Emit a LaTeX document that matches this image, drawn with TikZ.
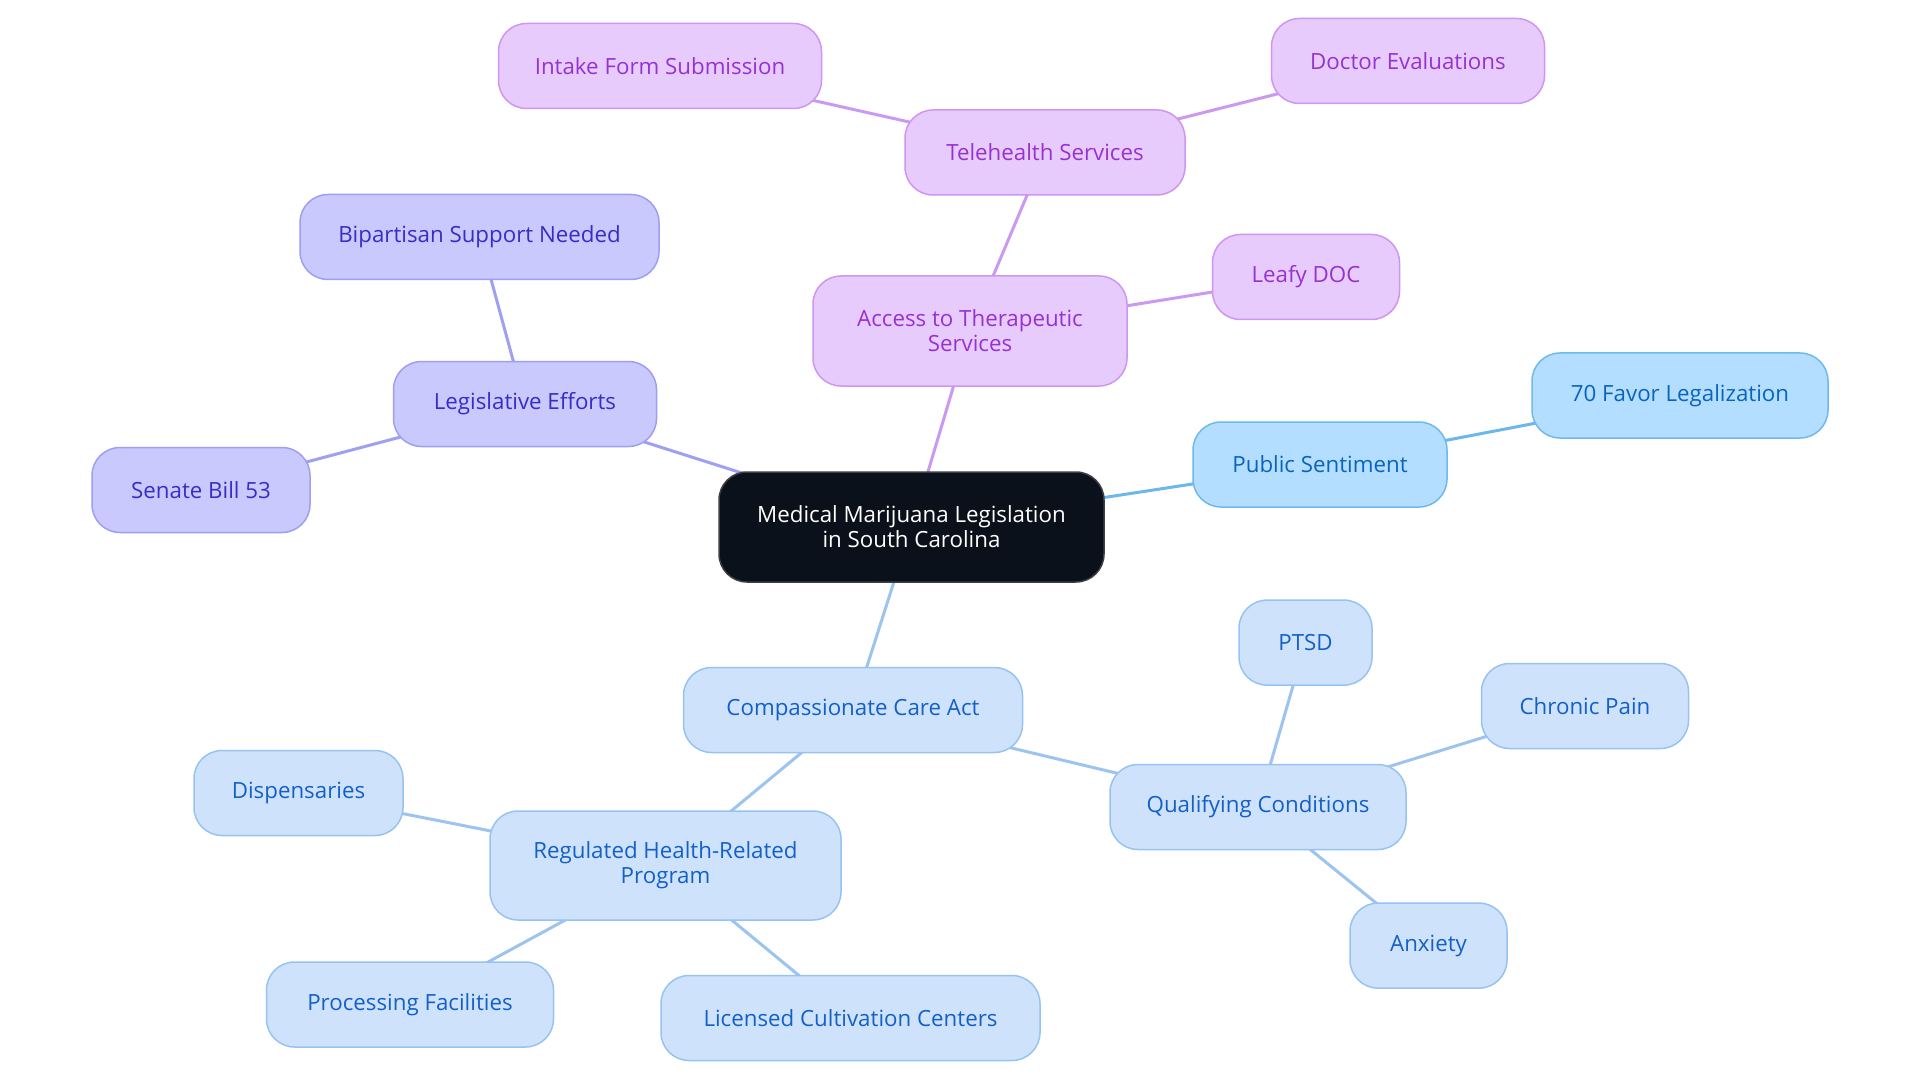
\documentclass[tikz,border=0pt]{standalone}
\usepackage{fontspec}
\setmainfont{Open Sans}
\usetikzlibrary{backgrounds}
\definecolor{purFill}{RGB}{232,203,253}
\definecolor{purDraw}{RGB}{206,150,240}
\definecolor{purText}{RGB}{150,50,210}
\definecolor{purEdge}{RGB}{204,153,240}
\definecolor{indFill}{RGB}{201,201,253}
\definecolor{indDraw}{RGB}{158,158,242}
\definecolor{indText}{RGB}{55,45,200}
\definecolor{indEdge}{RGB}{160,160,242}
\definecolor{skyFill}{RGB}{179,222,255}
\definecolor{skyDraw}{RGB}{110,185,238}
\definecolor{skyText}{RGB}{10,100,190}
\definecolor{skyEdge}{RGB}{108,184,234}
\definecolor{palFill}{RGB}{206,227,251}
\definecolor{palDraw}{RGB}{152,195,240}
\definecolor{palText}{RGB}{20,95,200}
\definecolor{palEdge}{RGB}{157,196,239}
\definecolor{rootFill}{RGB}{11,17,27}
\definecolor{rootDraw}{RGB}{60,64,70}
\tikzset{
  base/.style={rectangle, rounded corners=28pt, line width=1.5pt, align=center,
    font=\fontsize{22.3}{25}\selectfont, inner sep=0pt, minimum height=85pt},
  pur/.style={base, fill=purFill, draw=purDraw, text=purText},
  ind/.style={base, fill=indFill, draw=indDraw, text=indText},
  sky/.style={base, fill=skyFill, draw=skyDraw, text=skyText},
  pal/.style={base, fill=palFill, draw=palDraw, text=palText},
  root/.style={base, fill=rootFill, draw=rootDraw, text=white},
  edge/.style={line width=3pt}
}
\begin{document}
\begin{tikzpicture}[x=1pt,y=-1pt]
\useasboundingbox (0,0) rectangle (1920,1083);
\node[root, minimum width=385pt, minimum height=110pt] (c) at (911.5,527) {Medical Marijuana Legislation\\in South Carolina};
\node[ind, minimum width=263pt] (leg) at (525,404) {Legislative Efforts};
\node[ind, minimum width=359pt] (bip) at (479.5,237) {Bipartisan Support Needed};
\node[ind, minimum width=218pt] (sen) at (201,490) {Senate Bill 53};
\node[pur, minimum width=314pt, minimum height=110pt] (acc) at (970,331) {Access to Therapeutic\\Services};
\node[pur, minimum width=280pt] (tel) at (1045,152.5) {Telehealth Services};
\node[pur, minimum width=323pt] (intake) at (660,66) {Intake Form Submission};
\node[pur, minimum width=273pt] (doc) at (1408,61) {Doctor Evaluations};
\node[pur, minimum width=187pt] (leafy) at (1306,277) {Leafy DOC};
\node[sky, minimum width=254pt] (pub) at (1320,464.5) {Public Sentiment};
\node[sky, minimum width=296pt] (fav) at (1680,395.5) {70 Favor Legalization};
\node[pal, minimum width=339pt] (cca) at (853,710) {Compassionate Care Act};
\node[pal, minimum width=351pt, minimum height=109pt] (reg) at (665.5,865.5) {Regulated Health-Related\\Program};
\node[pal, minimum width=209pt] (disp) at (298.5,793) {Dispensaries};
\node[pal, minimum width=287pt] (proc) at (410,1004.5) {Processing Facilities};
\node[pal, minimum width=379pt] (lic) at (850.5,1018) {Licensed Cultivation Centers};
\node[pal, minimum width=296pt] (qual) at (1258,807) {Qualifying Conditions};
\node[pal, minimum width=133pt] (ptsd) at (1305.5,642.6) {PTSD};
\node[pal, minimum width=207pt] (chr) at (1585,706) {Chronic Pain};
\node[pal, minimum width=157pt] (anx) at (1428.5,945.6) {Anxiety};
\begin{pgfonlayer}{background}
\fill[white] (0,0) rectangle (1920,1083);
\draw[edge, indEdge] (c.center) -- (leg.center);
\draw[edge, indEdge] (leg.center) -- (bip.center);
\draw[edge, indEdge] (leg.center) -- (sen.center);
\draw[edge, purEdge] (c.center) -- (acc.center);
\draw[edge, purEdge] (acc.center) -- (tel.center);
\draw[edge, purEdge] (acc.center) -- (leafy.center);
\draw[edge, purEdge] (tel.center) -- (intake.center);
\draw[edge, purEdge] (tel.center) -- (doc.center);
\draw[edge, skyEdge] (c.center) -- (pub.center);
\draw[edge, skyEdge] (pub.center) -- (fav.center);
\draw[edge, palEdge] (c.center) -- (cca.center);
\draw[edge, palEdge] (cca.center) -- (reg.center);
\draw[edge, palEdge] (cca.center) -- (qual.center);
\draw[edge, palEdge] (reg.center) -- (disp.center);
\draw[edge, palEdge] (reg.center) -- (proc.center);
\draw[edge, palEdge] (reg.center) -- (lic.center);
\draw[edge, palEdge] (qual.center) -- (ptsd.center);
\draw[edge, palEdge] (qual.center) -- (chr.center);
\draw[edge, palEdge] (qual.center) -- (anx.center);
\end{pgfonlayer}
\end{tikzpicture}
\end{document}
